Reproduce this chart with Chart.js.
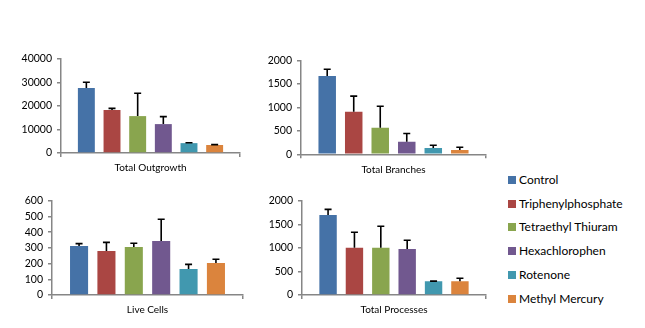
<!DOCTYPE html>
<html>
<head>
<meta charset="utf-8">
<script src="https://cdn.jsdelivr.net/npm/chart.js@4.4.1/dist/chart.umd.min.js"></script>
<style>
  body { margin: 0; background: #fff; }
  #wrap { position: relative; width: 645px; height: 328px; overflow: hidden; }
  canvas { position: absolute; }
  #legend { position: absolute; left: 508px; top: 0; font-family: Lato, sans-serif; font-size: 12px; color: #000; }
  .item { position: absolute; left: 0; white-space: nowrap; line-height: 14px; }
  .sw { display: inline-block; width: 8px; height: 8px; margin-right: 3px; }
</style>
</head>
<body>
<div id="wrap">
  <canvas id="c1"></canvas>
  <canvas id="c2"></canvas>
  <canvas id="c3"></canvas>
  <canvas id="c4"></canvas>
  <div id="legend"></div>
</div>
<script>
// series (legend) names and colours
const seriesNames = ['Control', 'Triphenylphosphate', 'Tetraethyl Thiuram', 'Hexachlorophen', 'Rotenone', 'Methyl Mercury'];
const seriesColors = ['#4572A7', '#AA4643', '#89A54E', '#71588F', '#4198AF', '#DB843D'];

// panel data: mean values and upper error (SD)
const outgrowthMean = [27700, 18300, 15700, 12300, 4200, 3400];
const outgrowthErr = [2400, 700, 9700, 3200, 150, 150];
const outgrowthTicks = [0, 10000, 20000, 30000, 40000];

const branchesMean = [1670, 905, 565, 265, 135, 92];
const branchesErr = [145, 335, 460, 180, 57, 58];
const branchesTicks = [0, 500, 1000, 1500, 2000];

const liveMean = [312, 280, 305, 344, 165, 204];
const liveErr = [15, 55, 24, 138, 30, 23];
const liveTicks = [0, 100, 200, 300, 400, 500, 600];

const processesMean = [1697, 1000, 1000, 976, 290, 290];
const processesErr = [120, 330, 457, 184, 5, 64];
const processesTicks = [0, 500, 1000, 1500, 2000];

const FONT = 'Lato, sans-serif';
const axisColor = '#868686';

// draws only the upper error bar with a cap, from the y scale
const errorBarPlugin = {
    id: 'errorBars',
    afterDatasetsDraw(chart) {
        const ctx = chart.ctx;
        const yScale = chart.scales.y;
        const errs = chart.options.plugins.errorBars.errors;
        ctx.save();
        ctx.strokeStyle = '#000';
        ctx.lineWidth = 1.6;
        chart.data.datasets.forEach((ds, i) => {
            const bar = chart.getDatasetMeta(i).data[0];
            const top = yScale.getPixelForValue(ds.data[0] + errs[i]);
            ctx.beginPath();
            ctx.moveTo(bar.x, bar.y);
            ctx.lineTo(bar.x, top);
            ctx.moveTo(bar.x - 3.5, top);
            ctx.lineTo(bar.x + 3.5, top);
            ctx.stroke();
        });
        ctx.restore();
    }
};

// p: canvas box and plot area edges in page pixels
function makePanel(id, title, means, errs, ticks, p) {
    const el = document.getElementById(id);
    el.style.left = p.left + 'px';
    el.style.top = p.top + 'px';
    el.width = p.width;
    el.height = p.height;
    el.style.width = p.width + 'px';
    el.style.height = p.height + 'px';

    const yWidth = p.axisX - p.left;
    const xHeight = 23;
    const maxV = ticks[ticks.length - 1];

    new Chart(el, {
        type: 'bar',
        data: {
            labels: [title],
            datasets: means.map((m, i) => ({
                label: seriesNames[i],
                data: [m],
                backgroundColor: seriesColors[i],
                categoryPercentage: 0.86,
                barPercentage: 0.66
            }))
        },
        options: {
            responsive: false,
            animation: false,
            devicePixelRatio: 1,
            layout: {
                padding: {
                    left: 0,
                    top: p.areaTop - p.top,
                    right: p.left + p.width - p.areaRight,
                    bottom: p.top + p.height - p.areaBottom - xHeight
                }
            },
            plugins: {
                legend: { display: false },
                tooltip: { enabled: false },
                errorBars: { errors: errs }
            },
            scales: {
                x: {
                    afterFit: s => { s.height = xHeight; },
                    border: { color: axisColor, width: 1.5 },
                    grid: { display: true, drawOnChartArea: false, color: axisColor, tickLength: 4, lineWidth: 1.5 },
                    ticks: { color: '#000', font: { family: FONT, size: 10 }, padding: 5 }
                },
                y: {
                    min: 0,
                    max: maxV,
                    afterFit: s => { s.width = yWidth; },
                    afterBuildTicks: s => { s.ticks = ticks.map(v => ({ value: v })); },
                    border: { color: axisColor, width: 1.5 },
                    grid: { display: true, drawOnChartArea: false, color: axisColor, tickLength: 4, lineWidth: 1.5 },
                    ticks: { color: '#000', font: { family: FONT, size: 10.5 }, padding: 5, callback: v => String(v) }
                }
            }
        },
        plugins: [errorBarPlugin]
    });
}

makePanel('c1', 'Total Outgrowth', outgrowthMean, outgrowthErr, outgrowthTicks,
    { left: 0, top: 40, width: 245, height: 145, axisX: 61, areaRight: 240, areaTop: 59, areaBottom: 153 });
makePanel('c2', 'Total Branches', branchesMean, branchesErr, branchesTicks,
    { left: 240, top: 40, width: 250, height: 145, axisX: 301, areaRight: 486, areaTop: 60.5, areaBottom: 154.3 });
makePanel('c3', 'Live Cells', liveMean, liveErr, liveTicks,
    { left: 0, top: 185, width: 246, height: 140, axisX: 52, areaRight: 243, areaTop: 200.7, areaBottom: 295 });
makePanel('c4', 'Total Processes', processesMean, processesErr, processesTicks,
    { left: 246, top: 185, width: 244, height: 140, axisX: 302, areaRight: 486, areaTop: 200.7, areaBottom: 295 });

// legend
const legendY = [180, 203.5, 227, 251, 275, 298.5];
const legend = document.getElementById('legend');
seriesNames.forEach((name, i) => {
    const d = document.createElement('div');
    d.className = 'item';
    d.style.top = (legendY[i] - 7) + 'px';
    d.innerHTML = '<span class="sw" style="background:' + seriesColors[i] + '"></span>' + name;
    legend.appendChild(d);
});
</script>
</body>
</html>
